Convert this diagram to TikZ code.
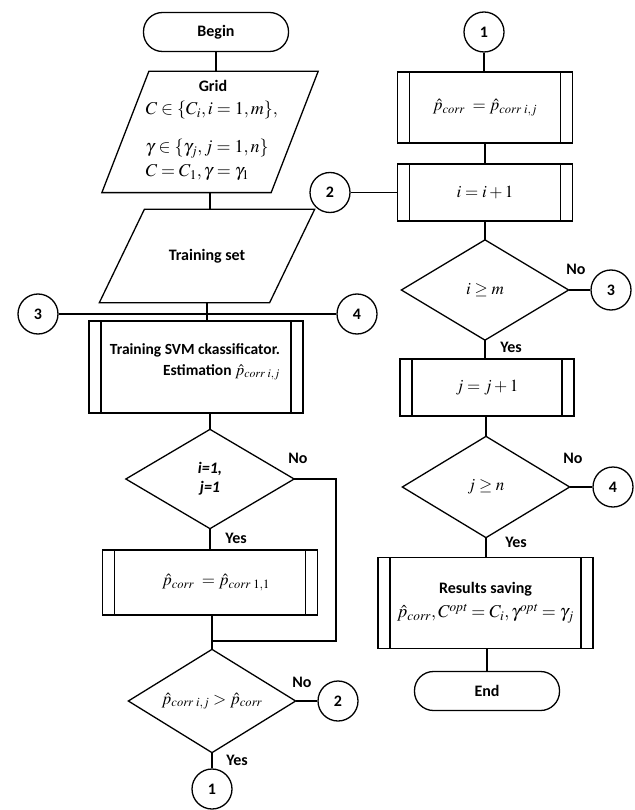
\documentclass[tikz,border=0pt]{standalone}
\usepackage{mathptmx}
\usepackage{fontspec}
\setmainfont{Carlito}
\begin{document}
\begin{tikzpicture}[x=1pt,y=-1pt,line width=1.3pt,
  every node/.style={font=\bfseries\fontsize{16}{19}\selectfont},
  mtxt/.style={font=\fontsize{17}{20}\selectfont},
  gtxt/.style={font=\fontsize{18}{21}\selectfont,inner sep=0pt,anchor=base west},
  term/.style={draw,rounded corners=19pt,minimum width=145pt,minimum height=39pt},
  pbox/.style={draw,path picture={
     \draw ([xshift=12pt]path picture bounding box.north west) -- ([xshift=12pt]path picture bounding box.south west);
     \draw ([xshift=-12pt]path picture bounding box.north east) -- ([xshift=-12pt]path picture bounding box.south east);}},
  conn/.style={draw,circle,minimum size=40pt,inner sep=0pt},
  geom/.style={inner sep=0pt},
  lbl/.style={inner sep=1pt}]
\useasboundingbox (0,0) rectangle (634,810);

% ---------- left column ----------
\node[term] (begin) at (216,32) {Begin};

\node[geom,minimum width=121pt,minimum height=120pt] (grid) at (210,132) {};
\draw (grid.north west) -- ([xshift=47pt]grid.north east) -- (grid.south east) -- ([xshift=-47pt]grid.south west) -- cycle;
\node[inner sep=0pt,anchor=base] (gridt1) at (213,92) {Grid};
\node[gtxt] (gridt2) at (145,115) {$C\in\{C_i,i=1,m\},$};
\node[gtxt] (gridt3) at (145,153) {$\gamma\in\{\gamma_j,j=1,n\}$};
\node[gtxt] (gridt4) at (145,177) {$C=C_1,\gamma=\gamma_1$};

\node[geom,minimum width=124pt,minimum height=92pt] (train) at (207,256) {Training set};
\draw (train.north west) -- ([xshift=45pt]train.north east) -- (train.south east) -- ([xshift=-45pt]train.south west) -- cycle;

\node[conn] (c3a) at (38,314) {3};
\node[conn] (c4a) at (357,314) {4};

\node[pbox,minimum width=214pt,minimum height=92pt] (svm) at (196,367) {};
\node[align=right,font=\bfseries\fontsize{15.5}{21}\selectfont] (svmtext) at (195,362)
  {Training SVM ckassificator.\\ Estimation {\fontsize{16}{18}\selectfont\mdseries$\hat{p}_{\mathit{corr}\;i,j}$}};

\node[geom,minimum width=167pt,minimum height=98pt,align=center] (d1) at (210,479)
  {\bfseries\itshape i=1,\\ \bfseries\itshape j=1};
\draw (d1.north) -- (d1.east) -- (d1.south) -- (d1.west) -- cycle;

\node[pbox,mtxt,minimum width=215pt,minimum height=65pt] (box11) at (210,582.5)
  {\hspace*{12pt}$\hat{p}_{\mathit{corr}}\;=\hat{p}_{\mathit{corr}\;1,1}$};

\coordinate (jn) at (212,641);
\coordinate (bendA) at (336,641);

\node[geom,mtxt,minimum width=166pt,minimum height=102pt] (d2) at (212,701)
  {$\hat{p}_{\mathit{corr}\;i,j}>\hat{p}_{\mathit{corr}}$};
\draw (d2.north) -- (d2.east) -- (d2.south) -- (d2.west) -- cycle;

\node[conn] (c2a) at (338,701) {2};
\node[conn] (c1a) at (212,789) {1};

\node[lbl] (no1) at (298,458) {No};
\node[lbl] (yes1) at (236,538) {Yes};
\node[lbl] (no2) at (302,682) {No};
\node[lbl] (yes2) at (237,760) {Yes};

% ---------- right column ----------
\node[conn] (c1b) at (484,32) {1};
\node[pbox,mtxt,minimum width=175pt,minimum height=71pt] (pc) at (485,107.5)
  {$\hat{p}_{\mathit{corr}}\;=\hat{p}_{\mathit{corr}\;i,j}$};
\node[pbox,mtxt,minimum width=175pt,minimum height=57pt] (ii) at (485,192.5) {$i=i+1$};
\node[conn] (c2b) at (330,192.5) {2};

\node[geom,mtxt,minimum width=166pt,minimum height=99pt] (d3) at (485,290) {$i\geq m$};
\draw (d3.north) -- (d3.east) -- (d3.south) -- (d3.west) -- cycle;
\node[conn] (c3b) at (611,290) {3};

\node[pbox,mtxt,minimum width=174pt,minimum height=57pt] (jj) at (487,387.5) {$j=j+1$};

\node[geom,mtxt,minimum width=166pt,minimum height=100pt] (d4) at (486,487) {$j\geq n$};
\draw (d4.north) -- (d4.east) -- (d4.south) -- (d4.west) -- cycle;
\node[conn] (c4b) at (613,487) {4};

\node[pbox,minimum width=215pt,minimum height=91pt,align=center] (res) at (485.5,603)
  {Results saving\\[5pt] {\fontsize{18}{20}\selectfont\mdseries$\hat{p}_{\mathit{corr}},C^{\mathit{opt}}=C_i,\gamma^{\mathit{opt}}=\gamma_j$}};
\path (res.north) ++(0,-1.5pt);

\node[term] (end) at (487,691) {End};

\node[lbl] (no3) at (576,269) {No};
\node[lbl] (yes3) at (511,347) {Yes};
\node[lbl] (no4) at (573,458) {No};
\node[lbl] (yes4) at (516,542) {Yes};

% ---------- connectors ----------
\draw (begin.south) -- (begin.south |- grid.north);
\draw (grid.south) -- (grid.south |- train.north);
\draw (train.south) -- (train.south |- svm.north);
\draw (c3a.east) -- (c4a.west);
\draw (d1.north |- svm.south) -- (d1.north);
\draw (d1.south) -- (d1.south |- box11.north);
\draw (jn |- box11.south) -- (jn) -- (d2.north);
\draw (d1.east) -| (bendA) -- (jn);
\draw (d2.east) -- (c2a.west);
\draw (d2.south) -- (c1a.north);

\draw (c1b.south) -- (c1b.south |- pc.north);
\draw (pc.south) -- (pc.south |- ii.north);
\draw (c2b.east) -- (ii.west);
\draw (ii.south) -- (ii.south |- d3.north);
\draw (d3.east) -- (c3b.west);
\draw (d3.south) -- (d3.south |- jj.north);
\draw (d4.north |- jj.south) -- (d4.north);
\draw (d4.east) -- (c4b.west);
\draw (d4.south) -- (d4.south |- res.north);
\draw (end.north |- res.south) -- (end.north);
\end{tikzpicture}
\end{document}
